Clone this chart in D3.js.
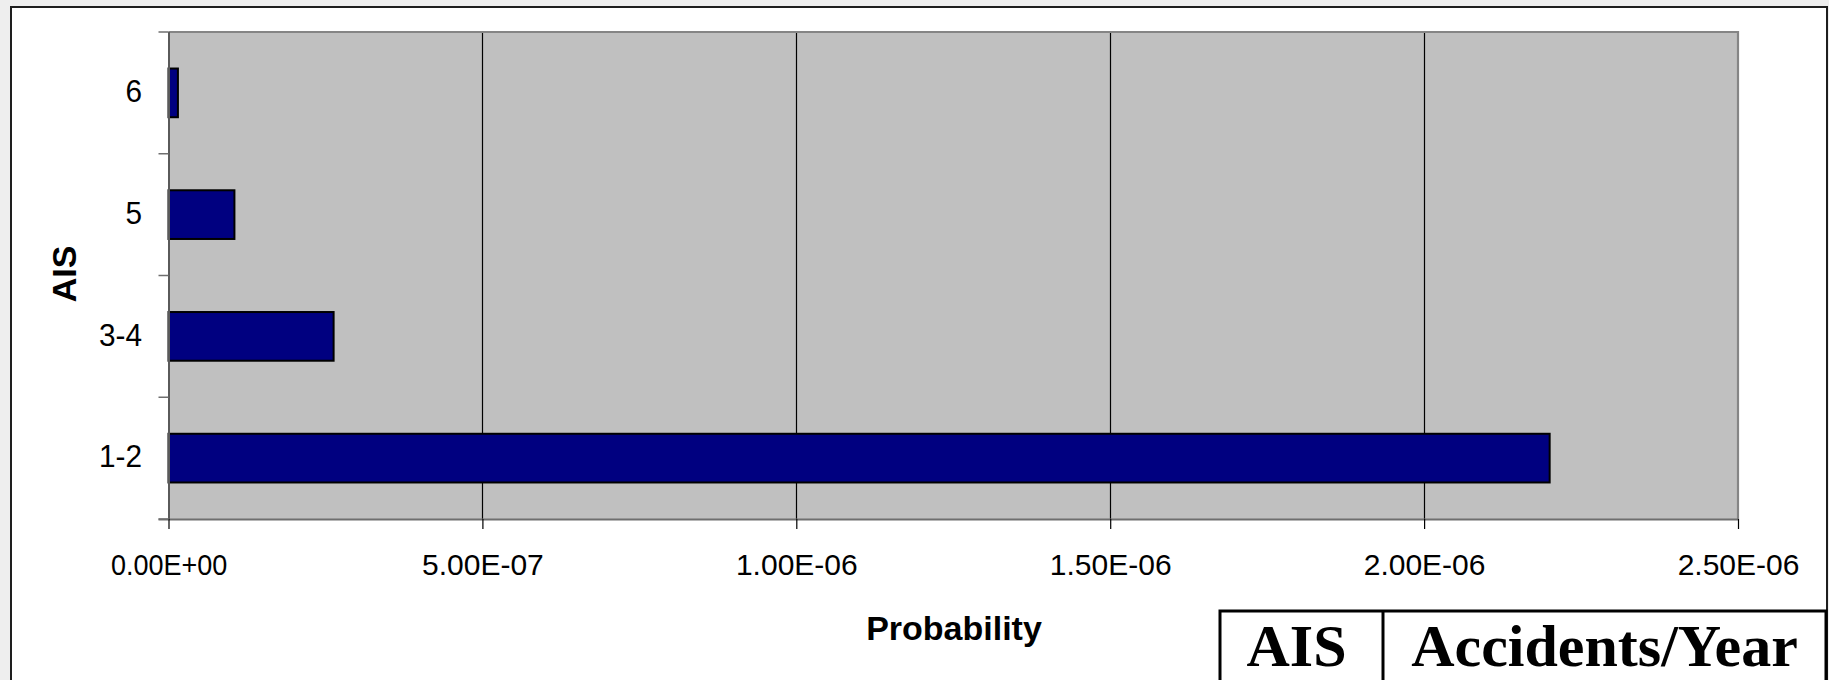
<!DOCTYPE html>
<html>
<head>
<meta charset="utf-8">
<script src="https://cdn.jsdelivr.net/npm/d3@7"></script>
<style>
  html, body { margin: 0; padding: 0; background: #eeeeee; }
  svg { display: block; }
</style>
</head>
<body>
<svg id="chart" width="1829" height="680"></svg>
<script>
// AIS severity classes, drawn top to bottom
const categories = ["6", "5", "3-4", "1-2"];
// Probability per AIS class
const probabilities = [1.5e-8, 1.05e-7, 2.63e-7, 2.2e-6];
// Probability axis ticks and their labels
const xTicks = [0, 5e-7, 1e-6, 1.5e-6, 2e-6, 2.5e-6];
const xTickLabels = ["0.00E+00", "5.00E-07", "1.00E-06", "1.50E-06", "2.00E-06", "2.50E-06"];
// Header row of the accompanying table
const tableHeaders = ["AIS", "Accidents/Year"];

const svg = d3.select("#chart");
const W = 1829, H = 680;
const plot = { left: 168.5, right: 1738, top: 32, bottom: 519 };

// Chart frame
svg.append("rect")
  .attr("x", 11).attr("y", 7)
  .attr("width", 1816).attr("height", H)
  .attr("fill", "#ffffff")
  .attr("stroke", "#1e1e1e").attr("stroke-width", 2);

const x = d3.scaleLinear().domain([0, 2.5e-6]).range([plot.left, plot.right]);
const y = d3.scaleBand().domain(categories).range([plot.top, plot.bottom])
  .paddingInner(0.6).paddingOuter(0.3);

// Plot area background
svg.append("rect")
  .attr("x", plot.left).attr("y", plot.top)
  .attr("width", plot.right - plot.left).attr("height", plot.bottom - plot.top)
  .attr("fill", "#c0c0c0");

// Vertical gridlines
svg.append("g").selectAll("line")
  .data(xTicks.slice(1, -1))
  .join("line")
  .attr("x1", d => Math.round(x(d)) + 0.5).attr("x2", d => Math.round(x(d)) + 0.5)
  .attr("y1", plot.top).attr("y2", plot.bottom)
  .attr("stroke", "#000").attr("stroke-width", 1.2);

// Plot area border (top and right)
svg.append("path")
  .attr("d", `M${plot.left},${plot.top}H${plot.right}V${plot.bottom}`)
  .attr("fill", "none").attr("stroke", "#858585").attr("stroke-width", 2.2);

// Bars
svg.append("g").selectAll("rect")
  .data(categories.map((c, i) => ({ c, v: probabilities[i] })))
  .join("rect")
  .attr("x", x(0))
  .attr("y", d => y(d.c))
  .attr("width", d => x(d.v) - x(0))
  .attr("height", y.bandwidth())
  .attr("fill", "#000080")
  .attr("stroke", "#000").attr("stroke-width", 2);

// X axis
const xAxis = svg.append("g")
  .attr("transform", `translate(0,${plot.bottom})`)
  .call(d3.axisBottom(x)
    .tickValues(xTicks)
    .tickFormat((d, i) => xTickLabels[i])
    .tickSize(10).tickSizeOuter(0));
xAxis.select(".domain").attr("stroke", "#6e6e6e").attr("stroke-width", 2)
  .attr("d", `M${plot.left - 10},0.5H${plot.right}`);
xAxis.selectAll(".tick line").attr("stroke", "#000").attr("stroke-width", 1.2);
xAxis.selectAll(".tick text")
  .attr("y", 56).attr("dy", 0)
  .attr("transform", (d, i) => xTickLabels[i].includes("+") ? "scale(0.9,1)" : null)
  .attr("fill", "#000")
  .style("font-family", "Arial, 'Liberation Sans', sans-serif")
  .style("font-size", "30px");

// Y axis: labels at band centres, ticks at band boundaries
const yAxis = svg.append("g")
  .attr("transform", `translate(${plot.left},0)`)
  .call(d3.axisLeft(y).tickSize(0).tickSizeOuter(0));
yAxis.select(".domain").attr("stroke", "#5a5a5a").attr("stroke-width", 2)
  .attr("d", `M0.5,${plot.top}V${plot.bottom}`);
yAxis.selectAll(".tick text")
  .attr("x", -28.5).attr("dy", "0.35em").attr("y", -2)
  .attr("transform", "scale(0.93,1)")
  .attr("fill", "#000")
  .style("font-family", "Arial, 'Liberation Sans', sans-serif")
  .style("font-size", "32px");
yAxis.append("g").selectAll("line")
  .data(d3.range(categories.length + 1))
  .join("line")
  .attr("x1", -10).attr("x2", 0)
  .attr("y1", i => plot.top + i * (plot.bottom - plot.top) / categories.length)
  .attr("y2", i => plot.top + i * (plot.bottom - plot.top) / categories.length)
  .attr("stroke", "#6e6e6e").attr("stroke-width", 1.5);

// Axis titles
svg.append("text")
  .attr("transform", "translate(76,274) rotate(-90)")
  .attr("text-anchor", "middle")
  .style("font-family", "Arial, 'Liberation Sans', sans-serif")
  .style("font-weight", "bold").style("font-size", "34px")
  .text("AIS");

svg.append("text")
  .attr("x", 954).attr("y", 640)
  .attr("text-anchor", "middle")
  .style("font-family", "Arial, 'Liberation Sans', sans-serif")
  .style("font-weight", "bold").style("font-size", "34px")
  .text("Probability");

// Table header row
const table = { left: 1220, top: 611, divider: 1383, right: 1826 };
svg.append("rect")
  .attr("x", table.left).attr("y", table.top)
  .attr("width", table.right - table.left).attr("height", 120)
  .attr("fill", "#fff").attr("stroke", "#000").attr("stroke-width", 3);
svg.append("line")
  .attr("x1", table.divider).attr("x2", table.divider)
  .attr("y1", table.top).attr("y2", H)
  .attr("stroke", "#000").attr("stroke-width", 3);
const cellCentres = [(table.left + table.divider) / 2 - 5, (table.divider + table.right) / 2];
svg.append("g").selectAll("text")
  .data(tableHeaders)
  .join("text")
  .attr("x", (d, i) => cellCentres[i])
  .attr("y", 666)
  .attr("text-anchor", "middle")
  .style("font-family", "'Times New Roman', 'Liberation Serif', serif")
  .style("font-weight", "bold").style("font-size", "60px")
  .text(d => d);
</script>
</body>
</html>
